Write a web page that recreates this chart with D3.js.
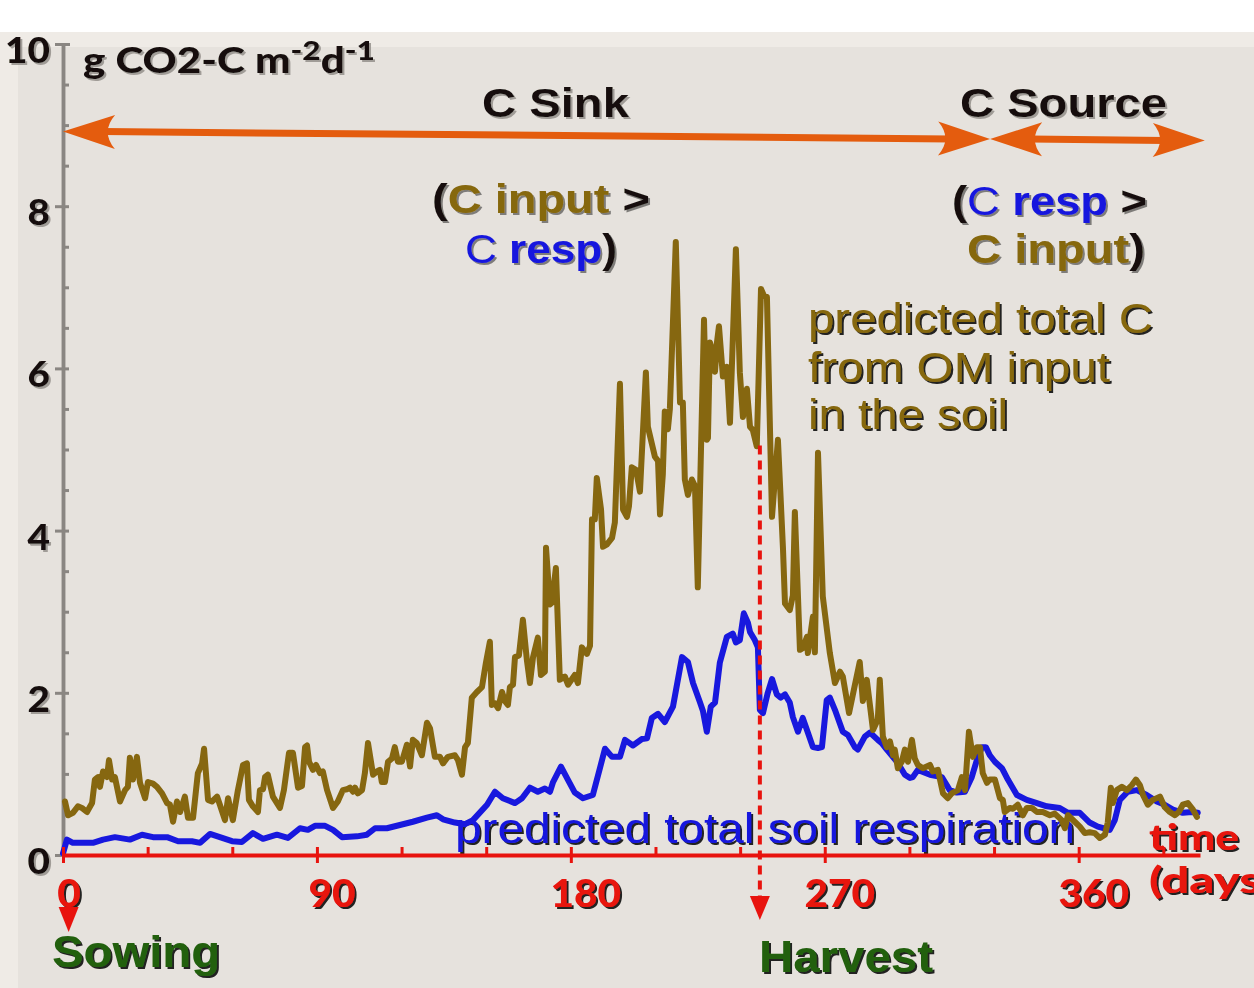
<!DOCTYPE html>
<html>
<head>
<meta charset="utf-8">
<script src="https://cdn.jsdelivr.net/npm/d3@7/dist/d3.min.js"></script>
<style>
html, body { margin: 0; padding: 0; background: #fff; }
svg { display: block; }
</style>
</head>
<body>
<div id="chart"></div>
<script>
// predicted total soil respiration (blue), [day, g CO2-C m-2 d-1]
const respiration = [
  [0,0.02],[1.4,0.19],[3.5,0.15],[10.6,0.15],[14.2,0.19],[18.4,0.22],[23.7,0.19],[28.0,0.25],
  [31.9,0.22],[36.9,0.22],[40.8,0.17],[45.7,0.17],[48.6,0.15],[52.1,0.26],[55.6,0.22],[59.9,0.17],
  [63.4,0.16],[67.3,0.27],[70.9,0.20],[75.8,0.25],[79.7,0.21],[84.0,0.33],[86.8,0.31],[89.3,0.36],
  [92.9,0.36],[95.7,0.31],[98.9,0.22],[104.2,0.23],[107.7,0.25],[110.6,0.33],[114.8,0.33],[119.4,0.37],
  [124.0,0.41],[129.0,0.46],[132.5,0.49],[134.7,0.44],[138.9,0.40],[142.5,0.38],[145.3,0.43],[150.3,0.62],
  [153.1,0.78],[155.9,0.70],[160.2,0.64],[162.7,0.70],[165.5,0.83],[168.3,0.78],[170.8,0.82],[172.6,0.78],
  [173.7,0.90],[176.5,1.09],[178.6,0.95],[181.4,0.77],[184.3,0.70],[187.8,0.74],[190.3,1.07],[192.1,1.31],
  [194.6,1.21],[197.4,1.21],[199.2,1.42],[202.0,1.35],[205.2,1.43],[207.0,1.44],[208.7,1.69],[210.9,1.74],
  [213.3,1.64],[216.2,1.83],[219.4,2.44],[221.5,2.38],[223.3,2.12],[225.7,1.89],[226.8,1.78],[228.2,1.52],
  [229.6,1.83],[231.1,1.88],[232.8,2.37],[235.3,2.69],[237.4,2.73],[238.5,2.62],[239.9,2.65],[241.3,2.98],
  [242.8,2.86],[243.5,2.75],[245.2,2.65],[246.3,2.56],[247.0,1.79],[248.1,1.75],[249.8,2.00],[251.3,2.17],
  [253.0,1.98],[254.4,1.94],[255.9,1.98],[257.6,1.88],[258.7,1.70],[260.5,1.52],[262.2,1.69],[264.0,1.51],
  [265.8,1.33],[267.6,1.32],[269.0,1.33],[270.7,1.91],[271.8,1.94],[273.6,1.79],[276.4,1.52],[278.2,1.48],
  [280.7,1.33],[281.7,1.30],[284.2,1.46],[286.0,1.51],[288.8,1.42],[290.2,1.38],[292.0,1.30],[295.6,1.15],
  [298.4,0.99],[300.2,0.95],[301.2,0.96],[303.0,1.05],[307.3,0.99],[311.5,0.96],[314.3,0.80],[316.8,0.77],
  [319.7,0.78],[322.1,0.96],[323.9,1.17],[325.7,1.33],[327.1,1.33],[328.5,1.23],[330.3,1.15],[332.8,1.07],
  [334.9,0.93],[338.1,0.74],[341.6,0.68],[345.2,0.64],[348.7,0.60],[353.3,0.58],[356.2,0.52],[360.4,0.52],
  [363.9,0.40],[366.8,0.35],[371.0,0.31],[372.8,0.43],[374.6,0.68],[377.4,0.78],[380.6,0.80],[384.1,0.74],
  [387.7,0.66],[390.5,0.62],[393.4,0.56],[396.9,0.52],[400.1,0.53],[402.2,0.52]
];

// predicted total C from OM input in the soil (brown)
const cInput = [
  [0.7,0.66],[1.8,0.49],[3.5,0.52],[5.3,0.60],[6.7,0.58],[8.5,0.53],[10.3,0.64],[11.3,0.93],
  [12.4,0.96],[13.1,0.84],[14.2,1.03],[15.6,0.96],[16.3,1.17],[17.4,0.93],[18.4,0.96],[20.2,0.66],
  [22.0,0.80],[23.0,0.84],[23.7,1.20],[24.8,0.93],[26.2,1.21],[27.3,0.89],[29.1,0.70],[30.1,0.90],
  [31.9,0.88],[33.3,0.84],[35.1,0.76],[36.9,0.64],[37.9,0.62],[39.0,0.41],[40.4,0.66],[41.5,0.53],
  [43.2,0.72],[44.3,0.46],[46.1,0.46],[47.8,1.01],[49.3,1.13],[50.0,1.31],[51.4,0.68],[52.8,0.66],
  [54.6,0.72],[55.6,0.62],[57.4,0.43],[58.5,0.70],[60.2,0.43],[62.0,0.80],[63.8,1.11],[65.2,1.13],
  [65.9,0.68],[67.3,0.60],[69.1,0.53],[69.8,0.80],[70.9,0.81],[71.6,0.96],[72.6,0.99],[74.4,0.72],
  [76.9,0.58],[78.3,0.80],[80.1,1.26],[81.5,1.26],[83.3,0.83],[84.7,0.85],[85.8,1.33],[86.5,1.35],
  [87.2,1.15],[88.6,1.05],[89.7,1.11],[91.1,1.01],[92.1,1.03],[93.6,0.80],[95.7,0.58],[97.4,0.66],
  [99.2,0.80],[100.6,0.81],[101.7,0.83],[102.8,0.78],[103.5,0.83],[104.5,0.76],[106.0,0.80],[107.0,1.01],
  [108.1,1.38],[109.9,0.99],[111.3,1.03],[112.3,1.05],[113.0,0.90],[114.1,0.90],[115.2,1.15],[116.6,1.19],
  [117.6,1.33],[118.7,1.15],[120.1,1.15],[121.9,1.36],[123.0,1.09],[124.0,1.42],[125.4,1.38],[127.2,1.23],
  [129.0,1.63],[130.1,1.56],[131.8,1.21],[133.6,1.21],[134.7,1.13],[136.4,1.21],[138.9,1.23],[140.0,1.17],
  [141.4,0.99],[142.5,1.33],[143.5,1.38],[144.9,1.94],[146.7,2.01],[148.5,2.07],[149.9,2.37],[151.3,2.63],
  [152.0,1.85],[153.1,1.87],[154.2,1.81],[155.6,2.01],[156.6,1.90],[157.7,1.85],[158.4,2.07],[159.5,2.10],
  [160.2,2.44],[161.6,2.46],[163.0,2.90],[164.4,2.41],[165.5,2.12],[166.6,2.44],[168.3,2.68],[169.4,2.22],
  [170.8,2.26],[171.2,3.79],[172.6,3.09],[173.3,3.11],[174.7,3.54],[176.1,2.16],[177.9,2.20],[179.0,2.10],
  [181.4,2.22],[182.5,2.12],[183.9,2.56],[185.7,2.48],[186.8,2.58],[187.5,4.14],[188.5,4.14],[189.2,4.65],
  [190.7,4.26],[191.4,3.80],[192.8,3.83],[194.6,3.91],[195.6,4.10],[197.4,5.81],[198.5,4.26],[199.9,4.17],
  [200.6,4.30],[201.6,4.78],[203.1,4.75],[204.5,4.48],[206.6,5.95],[207.3,5.28],[209.8,4.91],[210.9,4.86],
  [211.6,4.20],[212.6,4.69],[213.3,5.47],[214.4,5.25],[215.1,5.50],[217.2,7.56],[218.7,5.58],[219.7,5.58],
  [220.4,4.63],[221.5,4.44],[222.9,4.63],[224.0,4.55],[225.0,3.30],[227.2,6.60],[228.2,5.12],[228.6,5.14],
  [229.3,6.32],[230.4,6.20],[231.1,5.96],[231.8,6.32],[232.5,6.52],[233.9,5.90],[235.3,6.02],[236.4,5.33],
  [238.5,7.47],[239.9,5.95],[241.0,5.40],[242.4,5.75],[243.5,5.28],[244.5,5.24],[245.9,5.04],[247.4,6.98],
  [248.4,6.90],[249.5,6.88],[251.3,4.17],[253.4,5.12],[255.2,3.77],[255.9,3.10],[257.6,3.02],[258.7,3.20],
  [259.4,4.23],[261.2,2.53],[262.2,2.55],[263.7,2.69],[264.0,2.49],[265.8,2.94],[266.5,2.50],[267.6,4.96],
  [269.3,3.19],[271.8,2.49],[273.6,2.12],[275.4,2.26],[276.4,2.20],[278.6,1.75],[280.7,2.10],[282.4,2.38],
  [283.5,1.90],[284.9,2.16],[287.1,1.54],[288.8,1.67],[289.5,2.16],[290.6,1.46],[292.0,1.33],[293.1,1.40],
  [294.2,1.23],[294.8,1.30],[295.9,1.07],[297.3,1.15],[298.4,1.30],[299.5,1.15],[300.9,1.42],[301.9,1.19],
  [303.0,1.11],[304.8,1.07],[307.3,1.11],[308.3,1.03],[310.1,1.05],[311.9,0.76],[313.6,0.70],[315.0,0.76],
  [317.2,0.80],[318.6,0.96],[319.7,0.80],[321.1,1.52],[322.5,1.21],[323.9,1.33],[325.0,1.33],[326.0,1.01],
  [327.5,0.89],[328.5,0.93],[330.3,0.93],[332.1,0.70],[333.1,0.68],[333.8,0.53],[335.6,0.58],[336.7,0.57],
  [338.4,0.62],[340.2,0.49],[341.6,0.58],[343.4,0.58],[345.2,0.53],[347.3,0.53],[349.8,0.49],[351.5,0.51],
  [354.0,0.43],[355.1,0.33],[356.2,0.49],[358.6,0.41],[360.4,0.35],[362.2,0.27],[363.9,0.28],[365.7,0.27],
  [367.5,0.21],[369.3,0.25],[370.3,0.40],[371.4,0.83],[372.1,0.64],[373.5,0.80],[375.3,0.84],[377.1,0.80],
  [378.8,0.86],[380.3,0.93],[381.7,0.86],[382.8,0.74],[384.5,0.62],[386.3,0.68],[388.8,0.72],[390.5,0.59],
  [392.3,0.53],[394.1,0.49],[395.5,0.53],[396.9,0.62],[398.7,0.64],[400.5,0.56],[401.9,0.47]
];

const yTicks = [0, 2, 4, 6, 8, 10];
const xTicks = [0, 90, 180, 270, 360];
const xMinorTicks = d3.range(0, 391, 30);
const yMinorTicks = d3.range(0, 10.01, 0.5);
const sowingDay = 2;
const harvestDay = 247;
const harvestTop = 5.05;
// sink / source arrows: [startDay, startValue, endDay, endValue]
const sinkArrow = [0, 8.92, 328.6, 8.83];
const sourceArrow = [328.6, 8.83, 404.7, 8.81];

const W = 1254, H = 988;
const cBrown = "#866710", cBlue = "#1818de", cRed = "#e8130e",
      cOrange = "#e45c0e", cGreen = "#22600f", cInk = "#16110c", cGray = "#8a8682";

const svg = d3.select("#chart").append("svg").attr("width", W).attr("height", H);

const defs = svg.append("defs");
function shadow(id, color, op) {
  defs.append("filter").attr("id", id).attr("x", "-5%").attr("y", "-20%").attr("width", "115%").attr("height", "150%")
    .append("feDropShadow").attr("dx", 2).attr("dy", 2).attr("stdDeviation", 0.6)
    .attr("flood-color", color).attr("flood-opacity", op);
}
shadow("shDark", "#000", 0.85);
shadow("shSoft", "#000", 0.45);
shadow("shLight", "#8f8a85", 0.8);

// background
svg.append("rect").attr("x", 0).attr("y", 32).attr("width", W).attr("height", H - 32).attr("fill", "#efebe6");
svg.append("rect").attr("x", 18).attr("y", 47).attr("width", W - 18).attr("height", H - 47).attr("fill", "#e6e2dd");

const x = d3.scaleLinear().domain([0, 403]).range([63, 1200]);
const y = d3.scaleLinear().domain([0, 10]).range([855, 44]);

// y axis (gray)
const yMinor = svg.append("g").attr("transform", `translate(${x(0)},0)`)
  .call(d3.axisRight(y).tickValues(yMinorTicks).tickSize(6).tickSizeOuter(0).tickFormat(""));
const yMajor = svg.append("g").attr("transform", `translate(${x(0)},0)`)
  .call(d3.axisLeft(y).tickValues(yTicks).tickSize(8).tickSizeOuter(0).tickFormat(""));
[yMinor, yMajor].forEach(g => {
  g.selectAll("line").attr("stroke", cGray).attr("stroke-width", 3);
  g.select(".domain").attr("stroke", cGray).attr("stroke-width", 3.5);
});
yMajor.selectAll(".tick").filter(d => d === 10).select("line").attr("x1", 7);

function txt(g, px, py, parts, o) {
  const t = g.append("text").attr("x", px).attr("y", py)
    .attr("font-family", o.font || "'Liberation Sans', Arial, sans-serif")
    .attr("font-size", o.size)
    .attr("font-weight", o.weight || "bold")
    .attr("text-anchor", o.anchor || "start")
    .attr("filter", `url(#${o.shadow || "shDark"})`);
  if (o.len) t.attr("textLength", o.len).attr("lengthAdjust", "spacingAndGlyphs");
  parts.forEach(p => {
    const s = t.append("tspan").attr("fill", p.fill || o.fill).text(p.t);
    if (p.weight) s.attr("font-weight", p.weight);
    if (p.size) s.attr("font-size", p.size);
    if (p.dy) s.attr("dy", p.dy);
  });
  return t;
}

const lato = "Lato, 'Open Sans', sans-serif";
const labels = svg.append("g");
yTicks.forEach(v => {
  txt(labels, 50, y(v) + 19, [{ t: String(v) }],
    { font: lato, size: 36, weight: 900, fill: cInk, anchor: "end", shadow: "shLight", len: String(v).length * 22.5 });
});
txt(labels, 83, 73, [
  { t: "g CO2-C m" }, { t: "-2", size: 27, dy: -13 }, { t: "d", dy: 13 }, { t: "-1", size: 27, dy: -13 }
], { font: lato, size: 36, weight: 900, fill: cInk, shadow: "shLight", len: 292 });

// lines
const line = d3.line().x(d => x(d[0])).y(d => y(d[1]));
svg.append("path").datum(respiration).attr("d", line)
  .attr("fill", "none").attr("stroke", cBlue).attr("stroke-width", 6)
  .attr("stroke-linejoin", "round").attr("stroke-linecap", "round");
svg.append("path").datum(cInput).attr("d", line)
  .attr("fill", "none").attr("stroke", cBrown).attr("stroke-width", 6)
  .attr("stroke-linejoin", "round").attr("stroke-linecap", "round");

// x axis (red)
const xMinor = svg.append("g").attr("transform", `translate(0,${y(0)})`)
  .call(d3.axisTop(x).tickValues(xMinorTicks).tickSize(8).tickSizeOuter(0).tickFormat(""));
const xMajor = svg.append("g").attr("transform", `translate(0,${y(0)})`)
  .call(d3.axisBottom(x).tickValues(xTicks).tickSize(8).tickSizeOuter(0).tickFormat(""));
xMinor.selectAll("line").attr("stroke", cRed).attr("stroke-width", 3);
xMajor.selectAll("line").attr("stroke", cRed).attr("stroke-width", 3);
xMinor.select(".domain").attr("stroke", cRed).attr("stroke-width", 4);
xMajor.select(".domain").remove();

xTicks.forEach(v => {
  txt(labels, x(v) + (v === 0 ? 6 : 15), 907, [{ t: String(v) }],
    { font: lato, size: 37, weight: 900, fill: cRed, anchor: "middle", len: String(v).length * 23.5 });
});
txt(labels, 1149, 850, [{ t: "time" }], { font: lato, size: 36, weight: 900, fill: cRed, len: 90 });
txt(labels, 1149, 893, [{ t: "(days" }], { font: lato, size: 36, weight: 900, fill: cRed, len: 112 });

// sowing / harvest markers
const ann = svg.append("g");
ann.append("path")
  .attr("d", `M${x(sowingDay) - 10},907 L${x(sowingDay) + 10},907 L${x(sowingDay)},932 Z`)
  .attr("fill", cRed);
ann.append("line")
  .attr("x1", x(harvestDay)).attr("x2", x(harvestDay))
  .attr("y1", y(harvestTop)).attr("y2", 900)
  .attr("stroke", cRed).attr("stroke-width", 4).attr("stroke-dasharray", "9,6");
ann.append("path")
  .attr("d", `M${x(harvestDay) - 10},896 L${x(harvestDay) + 10},896 L${x(harvestDay)},920 Z`)
  .attr("fill", cRed);
txt(labels, 52, 967, [{ t: "Sowing" }], { size: 44, fill: cGreen, len: 168 });
txt(labels, 759, 972, [{ t: "Harvest" }], { size: 44, fill: cGreen, len: 174 });

// sink / source arrows
function head(g, tx, ty, ang) {
  const L = 52, hw = 17;
  const p = (a, b) => {
    const c = Math.cos(ang), s = Math.sin(ang);
    return [tx - a * c - b * s, ty - a * s + b * c];
  };
  const t1 = p(L, -hw), t2 = p(L, hw), cp = p(L * 0.72, 0);
  g.append("path")
    .attr("d", `M${tx},${ty} L${t1[0]},${t1[1]} Q${cp[0]},${cp[1]} ${t2[0]},${t2[1]} Z`)
    .attr("fill", cOrange);
}
function doubleArrow(a) {
  const x1 = x(a[0]), y1 = y(a[1]), x2 = x(a[2]), y2 = y(a[3]);
  const ang = Math.atan2(y2 - y1, x2 - x1);
  ann.append("line").attr("x1", x1 + 40).attr("y1", y1).attr("x2", x2 - 40).attr("y2", y2)
    .attr("stroke", cOrange).attr("stroke-width", 7);
  head(ann, x2, y2, ang);
  head(ann, x1, y1, ang + Math.PI);
}
doubleArrow(sinkArrow);
doubleArrow(sourceArrow);

// annotations
txt(labels, 482, 117, [{ t: "C Sink" }], { size: 40, fill: cInk, shadow: "shLight", len: 147 });
txt(labels, 960, 117, [{ t: "C Source" }], { size: 40, fill: cInk, shadow: "shLight", len: 207 });

txt(labels, 432, 213, [{ t: "(", fill: cInk }, { t: "C input", fill: cBrown }, { t: " >", fill: cInk }],
  { size: 40, shadow: "shSoft", len: 218 });
txt(labels, 465, 263, [{ t: "C ", fill: cBlue, weight: "normal" }, { t: "resp", fill: cBlue }, { t: ")", fill: cInk }],
  { size: 40, shadow: "shSoft", len: 152 });
txt(labels, 952, 215, [{ t: "(", fill: cInk }, { t: "C ", fill: cBlue, weight: "normal" }, { t: "resp", fill: cBlue }, { t: " >", fill: cInk }],
  { size: 40, shadow: "shSoft", len: 195 });
txt(labels, 967, 263, [{ t: "C input", fill: cBrown }, { t: ")", fill: cInk }],
  { size: 40, shadow: "shSoft", len: 178 });

txt(labels, 808, 333, [{ t: "predicted total C" }], { size: 42, weight: "normal", fill: cBrown, len: 345 });
txt(labels, 808, 382, [{ t: "from OM input" }], { size: 42, weight: "normal", fill: cBrown, len: 302 });
txt(labels, 808, 429, [{ t: "in the soil" }], { size: 42, weight: "normal", fill: cBrown, len: 200 });

txt(labels, 455, 843, [{ t: "predicted total soil respiration" }], { size: 43, weight: "normal", fill: cBlue, len: 620 });
</script>
</body>
</html>
